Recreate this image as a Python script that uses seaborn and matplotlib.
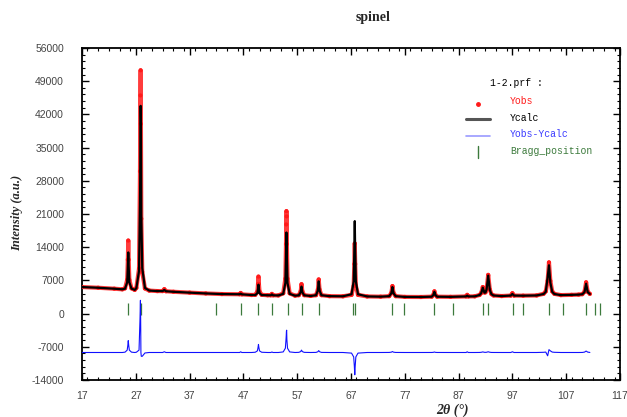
import numpy as np
import pandas as pd
import matplotlib
matplotlib.use("Agg")
import matplotlib.pyplot as plt
from matplotlib.lines import Line2D
from matplotlib.ticker import FixedLocator, MultipleLocator
import seaborn as sns

# ---------------- data ----------------
two_theta = [
    17.0, 20.0, 23.0, 24.5,
    25.0, 25.4, 25.52, 25.6, 25.68, 25.8, 26.2,
    26.8,
    27.1, 27.6, 27.78, 27.86, 27.9, 27.95, 28.02, 28.2, 28.7,
    29.5, 31.0,
    32.0, 32.3, 32.6,
    34.0, 37.0, 40.0, 43.0,
    46.3, 46.5, 46.7,
    48.5,
    49.2, 49.6, 49.72, 49.8, 49.88, 50.0, 50.4,
    51.5,
    52.1, 52.3, 52.5,
    53.5,
    54.4, 54.8, 54.92, 54.96, 55.0, 55.04, 55.08, 55.2, 55.6,
    56.6,
    57.3, 57.65, 57.8, 57.95, 58.3,
    59.5,
    60.5, 60.85, 61.0, 61.15, 61.5,
    63.0, 65.5,
    67.1, 67.5, 67.62, 67.7, 67.78, 67.9, 68.3,
    70.0, 72.5,
    74.1, 74.5, 74.7, 74.9, 75.3,
    77.0, 80.0,
    82.0, 82.3, 82.5, 82.7, 83.0,
    85.5,
    88.4, 88.6, 88.8,
    90.0,
    90.9, 91.2, 91.5, 91.8, 92.0, 92.2, 92.5, 92.8, 93.1, 93.5,
    95.0,
    96.7, 97.0, 97.3,
    99.0, 101.5,
    102.8, 103.2, 103.55, 103.8, 104.05, 104.4, 104.8,
    106.0, 108.0, 109.3,
    110.0, 110.4, 110.7, 111.0, 111.4,
]

y_obs = [
    5600, 5450, 5250, 5120,
    5330, 7120, 11360, 15400, 11360, 7120, 5330,
    5000,
    5400, 9500, 30000, 46000, 51300, 40000, 20000, 8800, 5300,
    4850, 4750,
    4750, 5150, 4720,
    4600, 4420, 4250, 4120,
    4080, 4350, 4060,
    3920,
    3960, 4640, 6260, 7800, 6260, 4640, 3960,
    3870,
    3860, 4150, 3860,
    3830,
    4280, 7360, 14660, 18800, 21600, 20500, 14660, 7360, 4280,
    3780,
    3885, 4705, 6200, 4705, 3885,
    3720,
    3890, 5070, 7200, 5070, 3890,
    3680, 3650,
    3950, 5880, 10450, 14800, 10450, 5880, 3950,
    3620, 3570,
    3680, 4360, 5800, 4360, 3680,
    3520, 3500,
    3570, 3930, 4700, 3930, 3570,
    3530,
    3620, 3950, 3620,
    3640,
    3930, 4340, 5600, 4450, 4480, 5140, 8160, 5070, 4110, 3820,
    3700,
    3800, 4300, 3800,
    3780, 3830,
    4170, 4680, 6900, 10800, 6900, 4680, 4170,
    3900, 3950, 4000,
    4100, 4600, 6600, 4600, 4150,
]

y_calc = [
    5600, 5450, 5250, 5120,
    5260, 6620, 9840, 12900, 9840, 6620, 5260,
    5000,
    5350, 9000, 23000, 35000, 43800, 40000, 20800, 9600, 5400,
    4850, 4750,
    4750, 5000, 4720,
    4600, 4420, 4250, 4120,
    4080, 4200, 4060,
    3920,
    3910, 4300, 5220, 6100, 5220, 4300, 3910,
    3870,
    3860, 4050, 3860,
    3830,
    4160, 6460, 11910, 15300, 17100, 15800, 11910, 6460, 4160,
    3780,
    3855, 4510, 5700, 4510, 3855,
    3720,
    3870, 4910, 6800, 4910, 3870,
    3680, 3650,
    4080, 6820, 13320, 19500, 13320, 6820, 4080,
    3620, 3570,
    3670, 4290, 5600, 4290, 3670,
    3520, 3500,
    3565, 3900, 4600, 3900, 3565,
    3530,
    3620, 3800, 3620,
    3640,
    3920, 4300, 5480, 4410, 4450, 5090, 8010, 5020, 4100, 3815,
    3700,
    3800, 4150, 3800,
    3780, 3830,
    4130, 4590, 7600, 10200, 6550, 4590, 4130,
    3900, 3950, 4000,
    4090, 4520, 6300, 4520, 4140,
]

bragg_positions = [25.6, 27.9, 42.0, 46.5, 49.8, 52.3, 55.2, 57.8, 61.0,
                   67.3, 67.8, 74.7, 76.9, 82.5, 86.0, 91.6, 92.5, 97.2,
                   99.0, 103.8, 106.4, 110.7, 112.4, 113.3]

diff_offset = -8200

x_ticks = [17, 27, 37, 47, 57, 67, 77, 87, 97, 107, 117]
y_ticks = [-14000, -7000, 0, 7000, 14000, 21000, 28000, 35000, 42000, 49000, 56000]

df = pd.DataFrame({"tth": two_theta, "obs": y_obs, "calc": y_calc})
df["diff"] = df["obs"] - df["calc"] + diff_offset

# ---------------- figure ----------------
sns.set_style("ticks")
plt.rcParams["font.family"] = ["Liberation Sans", "DejaVu Sans"]

W, H = 627, 417
fig = plt.figure(figsize=(W / 100, H / 100), dpi=100)
ax = fig.add_axes([82 / W, (H - 380) / H, (620 - 82) / W, (380 - 48) / H])

red = "#ff1a1a"
sns.lineplot(data=df, x="tth", y="obs", ax=ax, color=red, lw=3.0,
             estimator=None, sort=False, alpha=0.85, legend=False)
sns.scatterplot(data=df, x="tth", y="obs", ax=ax, color=red, s=9,
                edgecolor="none", legend=False, zorder=3)
sns.lineplot(data=df, x="tth", y="calc", ax=ax, color="black", lw=1.6,
             estimator=None, sort=False, legend=False, zorder=4)
sns.lineplot(data=df, x="tth", y="diff", ax=ax, color="#1010ff", lw=0.8,
             estimator=None, sort=False, legend=False, zorder=4)
ax.vlines(bragg_positions, -400, 2300, color="#3c7a3c", lw=0.9, zorder=2)

ax.set_xlim(17, 117)
ax.set_ylim(-14000, 56000)
ax.xaxis.set_major_locator(FixedLocator(x_ticks))
ax.xaxis.set_minor_locator(MultipleLocator(2))
ax.yaxis.set_major_locator(FixedLocator(y_ticks))
ax.yaxis.set_minor_locator(MultipleLocator(1400))
ax.set_xticklabels([str(v) for v in x_ticks])
ax.set_yticklabels([str(v) for v in y_ticks])
ax.tick_params(which="both", direction="in", top=True, right=True,
               colors="black", labelcolor="#444444", labelsize=7.5)
ax.tick_params(which="major", length=5, width=1.0)
ax.tick_params(which="minor", length=2.5, width=0.8)
ax.tick_params(axis="y", which="major", pad=13)
ax.tick_params(axis="x", which="major", pad=8)
for s in ax.spines.values():
    s.set_linewidth(1.3)
    s.set_color("black")
ax.set_xlabel("")
ax.set_ylabel("")

# titles / labels
fig.text(373 / W, 1 - 18 / H, "spinel", ha="center", va="center",
         family="Liberation Serif", fontweight="bold", fontsize=10)
fig.text(452 / W, 1 - 410 / H, "2θ (°)", ha="center", va="center",
         family="Liberation Serif", fontweight="bold", style="italic",
         fontsize=10)
fig.text(17 / W, 1 - 213 / H, "Intensity (a.u.)", ha="center", va="center",
         rotation=90, family="Liberation Serif", fontweight="bold",
         style="italic", fontsize=9)

# legend (FullProf style)
mono = "Liberation Mono"
fig.text(490 / W, 1 - 83 / H, "1-2.prf :", ha="left", va="center",
         family=mono, fontsize=7, color="black")
entries = [("Yobs", red, 101), ("Ycalc", "black", 118),
           ("Yobs-Ycalc", "#3a3aff", 134), ("Bragg_position", "#3c7a3c", 151)]
for lab, col, py in entries:
    fig.text(510 / W, 1 - py / H, lab, ha="left", va="center",
             family=mono, fontsize=7, color=col)
fig.add_artist(Line2D([478 / W], [1 - 104 / H], marker="o", markersize=2.5,
                      color=red, lw=0, transform=fig.transFigure))
fig.add_artist(Line2D([466 / W, 490 / W], [1 - 119 / H, 1 - 119 / H],
                      color="#555555", lw=2.2, transform=fig.transFigure))
fig.add_artist(Line2D([466 / W, 490 / W], [1 - 136 / H, 1 - 136 / H],
                      color="#9a9aff", lw=1.2, transform=fig.transFigure))
fig.add_artist(Line2D([478 / W, 478 / W], [1 - 146 / H, 1 - 158 / H],
                      color="#3c7a3c", lw=1.0, transform=fig.transFigure))

fig.savefig("out.png", dpi=100)
